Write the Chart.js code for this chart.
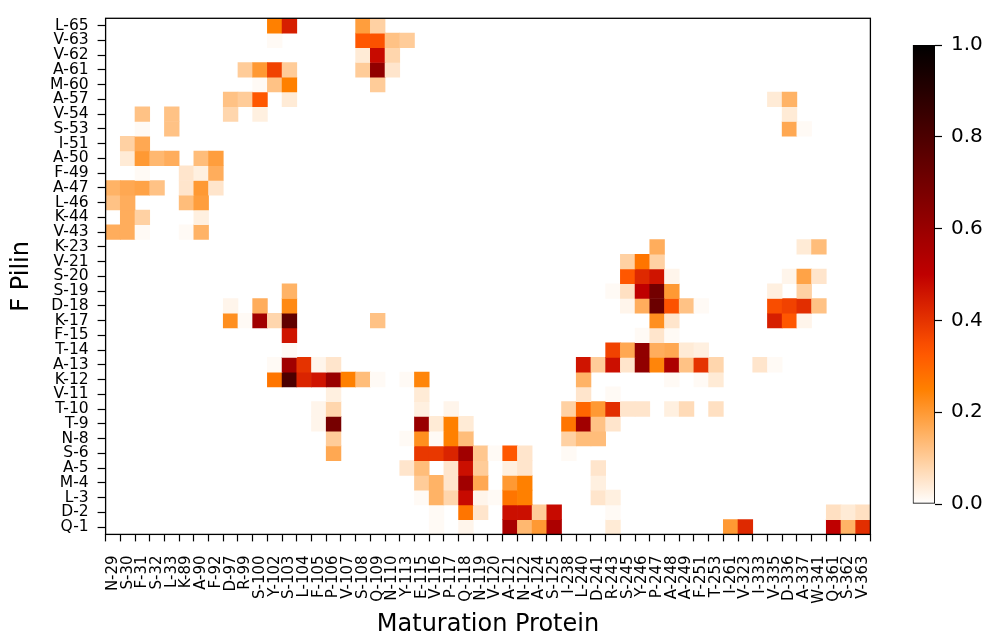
<!DOCTYPE html>
<html>
<head>
<meta charset="utf-8">
<title>F Pilin vs Maturation Protein</title>
<script src="https://cdn.jsdelivr.net/npm/chart.js@4.4.1/dist/chart.umd.min.js"></script>
<style>
    body { margin: 0; background: #fff; }
    #wrap { position: relative; width: 991px; height: 634px; }
    #heatmap { position: absolute; left: 0; top: 0; }
    #colorbar { position: absolute; left: 880px; top: 0; }
</style>
</head>
<body>
<div id="wrap">
    <canvas id="heatmap" width="991" height="634"></canvas>
    <canvas id="colorbar" width="111" height="634"></canvas>
</div>
<script>
// x 轴: Maturation Protein 残基
const proteinLabels = ['N-29', 'S-30', 'F-31', 'S-32', 'L-33', 'K-89', 'A-90', 'F-92', 'D-97', 'R-99',
    'S-100', 'Y-102', 'S-103', 'L-104', 'F-105', 'P-106', 'V-107', 'S-108', 'Q-109', 'N-110',
    'Y-113', 'E-115', 'V-116', 'P-117', 'Q-118', 'N-119', 'V-120', 'A-121', 'N-122', 'A-124',
    'S-125', 'I-238', 'L-240', 'D-241', 'R-243', 'S-245', 'Y-246', 'P-247', 'A-248', 'A-249',
    'F-251', 'T-253', 'I-261', 'V-323', 'I-333', 'V-335', 'D-336', 'A-337', 'W-341', 'Q-361',
    'S-362', 'V-363'];

// y 轴: F Pilin 残基 (从上到下)
const pilinLabels = ['L-65', 'V-63', 'V-62', 'A-61', 'M-60', 'A-57', 'V-54', 'S-53', 'I-51', 'A-50',
    'F-49', 'A-47', 'L-46', 'K-44', 'V-43', 'K-23', 'V-21', 'S-20', 'S-19', 'D-18',
    'K-17', 'F-15', 'T-14', 'A-13', 'K-12', 'V-11', 'T-10', 'T-9', 'N-8', 'S-6',
    'A-5', 'M-4', 'L-3', 'D-2', 'Q-1'];

// 非零格子: [F Pilin, Maturation Protein, 数值]
const cells = [
    ['L-65', 'Y-102', 0.25], ['L-65', 'S-103', 0.44], ['L-65', 'S-108', 0.19], ['L-65', 'Q-109', 0.09],
    ['V-63', 'Y-102', 0.01], ['V-63', 'S-108', 0.33], ['V-63', 'Q-109', 0.34], ['V-63', 'N-110', 0.12], ['V-63', 'Y-113', 0.10],
    ['V-62', 'S-108', 0.04], ['V-62', 'Q-109', 0.48], ['V-62', 'N-110', 0.08],
    ['A-61', 'R-99', 0.10], ['A-61', 'S-100', 0.20], ['A-61', 'Y-102', 0.37], ['A-61', 'S-103', 0.10],
    ['A-61', 'S-108', 0.10], ['A-61', 'Q-109', 0.62], ['A-61', 'N-110', 0.05],
    ['M-60', 'S-100', 0.01], ['M-60', 'Y-102', 0.12], ['M-60', 'S-103', 0.25], ['M-60', 'Q-109', 0.10],
    ['A-57', 'D-97', 0.12], ['A-57', 'R-99', 0.10], ['A-57', 'S-100', 0.33], ['A-57', 'S-103', 0.04],
    ['A-57', 'V-335', 0.04], ['A-57', 'D-336', 0.15],
    ['V-54', 'F-31', 0.12], ['V-54', 'L-33', 0.12], ['V-54', 'D-97', 0.08], ['V-54', 'S-100', 0.03], ['V-54', 'D-336', 0.04],
    ['S-53', 'F-31', 0.01], ['S-53', 'L-33', 0.12], ['S-53', 'D-336', 0.17], ['S-53', 'A-337', 0.01],
    ['I-51', 'S-30', 0.09], ['I-51', 'F-31', 0.17],
    ['A-50', 'S-30', 0.04], ['A-50', 'F-31', 0.20], ['A-50', 'S-32', 0.14], ['A-50', 'L-33', 0.16],
    ['A-50', 'A-90', 0.13], ['A-50', 'F-92', 0.19],
    ['F-49', 'F-31', 0.01], ['F-49', 'K-89', 0.05], ['F-49', 'A-90', 0.03], ['F-49', 'F-92', 0.16],
    ['A-47', 'N-29', 0.15], ['A-47', 'S-30', 0.17], ['A-47', 'F-31', 0.18], ['A-47', 'S-32', 0.12],
    ['A-47', 'K-89', 0.05], ['A-47', 'A-90', 0.20], ['A-47', 'F-92', 0.05],
    ['L-46', 'N-29', 0.12], ['L-46', 'S-30', 0.16], ['L-46', 'K-89', 0.13], ['L-46', 'A-90', 0.19],
    ['K-44', 'S-30', 0.16], ['K-44', 'F-31', 0.09], ['K-44', 'A-90', 0.03],
    ['V-43', 'N-29', 0.16], ['V-43', 'S-30', 0.16], ['V-43', 'F-31', 0.01], ['V-43', 'K-89', 0.01], ['V-43', 'A-90', 0.15],
    ['K-23', 'P-247', 0.16], ['K-23', 'A-337', 0.04], ['K-23', 'W-341', 0.13],
    ['V-21', 'S-245', 0.09], ['V-21', 'Y-246', 0.27], ['V-21', 'P-247', 0.09],
    ['S-20', 'S-245', 0.33], ['S-20', 'Y-246', 0.42], ['S-20', 'P-247', 0.46], ['S-20', 'A-248', 0.02],
    ['S-20', 'D-336', 0.02], ['S-20', 'A-337', 0.18], ['S-20', 'W-341', 0.05],
    ['S-19', 'S-103', 0.15], ['S-19', 'R-243', 0.01], ['S-19', 'S-245', 0.06], ['S-19', 'Y-246', 0.50],
    ['S-19', 'P-247', 0.70], ['S-19', 'A-248', 0.20], ['S-19', 'V-335', 0.03], ['S-19', 'A-337', 0.09],
    ['D-18', 'D-97', 0.02], ['D-18', 'S-100', 0.16], ['D-18', 'S-103', 0.23], ['D-18', 'S-245', 0.02],
    ['D-18', 'Y-246', 0.16], ['D-18', 'P-247', 0.72], ['D-18', 'A-248', 0.34], ['D-18', 'A-249', 0.12],
    ['D-18', 'F-251', 0.01], ['D-18', 'V-335', 0.35], ['D-18', 'D-336', 0.37], ['D-18', 'A-337', 0.41],
    ['D-18', 'W-341', 0.12],
    ['K-17', 'D-97', 0.22], ['K-17', 'R-99', 0.01], ['K-17', 'S-100', 0.58], ['K-17', 'Y-102', 0.08],
    ['K-17', 'S-103', 0.75], ['K-17', 'Q-109', 0.12], ['K-17', 'P-247', 0.22], ['K-17', 'A-248', 0.05],
    ['K-17', 'V-335', 0.44], ['K-17', 'D-336', 0.33], ['K-17', 'A-337', 0.02],
    ['F-15', 'S-103', 0.46], ['F-15', 'Y-246', 0.01], ['F-15', 'P-247', 0.05], ['F-15', 'A-248', 0.01],
    ['T-14', 'S-103', 0.01], ['T-14', 'R-243', 0.37], ['T-14', 'S-245', 0.17], ['T-14', 'Y-246', 0.62],
    ['T-14', 'P-247', 0.16], ['T-14', 'A-248', 0.17], ['T-14', 'A-249', 0.04], ['T-14', 'F-251', 0.03],
    ['A-13', 'Y-102', 0.01], ['A-13', 'S-103', 0.58], ['A-13', 'L-104', 0.40], ['A-13', 'F-105', 0.02],
    ['A-13', 'P-106', 0.05], ['A-13', 'L-240', 0.46], ['A-13', 'D-241', 0.10], ['A-13', 'R-243', 0.47],
    ['A-13', 'S-245', 0.05], ['A-13', 'Y-246', 0.62], ['A-13', 'P-247', 0.24], ['A-13', 'A-248', 0.55],
    ['A-13', 'A-249', 0.12], ['A-13', 'F-251', 0.40], ['A-13', 'T-253', 0.08], ['A-13', 'I-333', 0.05],
    ['A-13', 'V-335', 0.01],
    ['K-12', 'Y-102', 0.27], ['K-12', 'S-103', 0.80], ['K-12', 'L-104', 0.43], ['K-12', 'F-105', 0.46],
    ['K-12', 'P-106', 0.60], ['K-12', 'V-107', 0.25], ['K-12', 'S-108', 0.13], ['K-12', 'Q-109', 0.01],
    ['K-12', 'Y-113', 0.01], ['K-12', 'E-115', 0.24], ['K-12', 'L-240', 0.15], ['K-12', 'A-248', 0.01],
    ['K-12', 'F-251', 0.01], ['K-12', 'T-253', 0.04],
    ['V-11', 'P-106', 0.03], ['V-11', 'E-115', 0.04], ['V-11', 'L-240', 0.05], ['V-11', 'R-243', 0.01],
    ['T-10', 'F-105', 0.02], ['T-10', 'P-106', 0.08], ['T-10', 'E-115', 0.03], ['T-10', 'P-117', 0.02],
    ['T-10', 'I-238', 0.09], ['T-10', 'L-240', 0.30], ['T-10', 'D-241', 0.20], ['T-10', 'R-243', 0.41],
    ['T-10', 'S-245', 0.05], ['T-10', 'Y-246', 0.05], ['T-10', 'A-248', 0.03], ['T-10', 'A-249', 0.07],
    ['T-10', 'T-253', 0.06],
    ['T-9', 'F-105', 0.02], ['T-9', 'P-106', 0.69], ['T-9', 'E-115', 0.60], ['T-9', 'V-116', 0.04],
    ['T-9', 'P-117', 0.25], ['T-9', 'Q-118', 0.04], ['T-9', 'I-238', 0.27], ['T-9', 'L-240', 0.58],
    ['T-9', 'D-241', 0.12], ['T-9', 'R-243', 0.05],
    ['N-8', 'P-106', 0.10], ['N-8', 'Y-113', 0.01], ['N-8', 'E-115', 0.22], ['N-8', 'V-116', 0.01],
    ['N-8', 'P-117', 0.25], ['N-8', 'Q-118', 0.13], ['N-8', 'I-238', 0.09], ['N-8', 'L-240', 0.13],
    ['N-8', 'D-241', 0.13],
    ['S-6', 'P-106', 0.17], ['S-6', 'E-115', 0.39], ['S-6', 'V-116', 0.39], ['S-6', 'P-117', 0.43],
    ['S-6', 'Q-118', 0.58], ['S-6', 'N-119', 0.11], ['S-6', 'V-120', 0.01], ['S-6', 'A-121', 0.33],
    ['S-6', 'N-122', 0.05], ['S-6', 'I-238', 0.01],
    ['A-5', 'Y-113', 0.05], ['A-5', 'E-115', 0.13], ['A-5', 'P-117', 0.05], ['A-5', 'Q-118', 0.47],
    ['A-5', 'N-119', 0.10], ['A-5', 'A-121', 0.03], ['A-5', 'N-122', 0.05], ['A-5', 'D-241', 0.05],
    ['M-4', 'E-115', 0.10], ['M-4', 'V-116', 0.15], ['M-4', 'P-117', 0.05], ['M-4', 'Q-118', 0.58],
    ['M-4', 'N-119', 0.17], ['M-4', 'A-121', 0.20], ['M-4', 'N-122', 0.25], ['M-4', 'D-241', 0.03],
    ['L-3', 'E-115', 0.01], ['L-3', 'V-116', 0.15], ['L-3', 'P-117', 0.08], ['L-3', 'Q-118', 0.48],
    ['L-3', 'N-119', 0.02], ['L-3', 'V-120', 0.01], ['L-3', 'A-121', 0.27], ['L-3', 'N-122', 0.25],
    ['L-3', 'D-241', 0.05], ['L-3', 'R-243', 0.03],
    ['D-2', 'V-116', 0.01], ['D-2', 'Q-118', 0.27], ['D-2', 'N-119', 0.05], ['D-2', 'A-121', 0.47],
    ['D-2', 'N-122', 0.47], ['D-2', 'A-124', 0.10], ['D-2', 'S-125', 0.48], ['D-2', 'R-243', 0.01],
    ['D-2', 'Q-361', 0.06], ['D-2', 'S-362', 0.04], ['D-2', 'V-363', 0.06],
    ['Q-1', 'V-116', 0.01], ['Q-1', 'Q-118', 0.02], ['Q-1', 'A-121', 0.56], ['Q-1', 'N-122', 0.14],
    ['Q-1', 'A-124', 0.20], ['Q-1', 'S-125', 0.55], ['Q-1', 'R-243', 0.04], ['Q-1', 'I-261', 0.20],
    ['Q-1', 'V-323', 0.42], ['Q-1', 'Q-361', 0.50], ['Q-1', 'S-362', 0.15], ['Q-1', 'V-363', 0.41]
];

// 色标刻度
const colorbarTicks = [0, 0.2, 0.4, 0.6, 0.8, 1.0];

// gist_heat_r 色图: 0 白色, 1 黑色
function heatColor(v) {
    const x = 1 - Math.max(0, Math.min(1, v));
    const clamp = t => Math.round(255 * Math.max(0, Math.min(1, t)));
    return `rgb(${clamp(1.5 * x)}, ${clamp(2 * x - 1)}, ${clamp(4 * x - 3)})`;
}

const FONT = "'DejaVu Sans', sans-serif";

// 每一行 F Pilin 一个数据集, 每个格子是一根浮动柱 [i-0.5, i+0.5]
const datasets = pilinLabels.map((pilin, i) => {
    const rowCells = cells.filter(c => c[0] === pilin);
    return {
        label: pilin,
        data: rowCells.map(c => ({ x: c[1], y: [i - 0.5, i + 0.5] })),
        backgroundColor: rowCells.map(c => heatColor(c[2])),
        borderWidth: 0,
        barPercentage: 1,
        categoryPercentage: 1
    };
});

// 画外框
const frame = {
    id: 'frame',
    afterDraw(chart) {
        const { ctx, chartArea: a } = chart;
        ctx.save();
        ctx.strokeStyle = '#000';
        ctx.lineWidth = 1.3;
        ctx.strokeRect(a.left, a.top, a.right - a.left, a.bottom - a.top);
        ctx.restore();
    }
};

new Chart(document.getElementById('heatmap'), {
    type: 'bar',
    data: { labels: proteinLabels, datasets: datasets },
    options: {
        responsive: false,
        animation: false,
        layout: { padding: { left: 0, top: 15.6, right: 120.6, bottom: 0 } },
        plugins: { legend: { display: false }, tooltip: { enabled: false } },
        scales: {
            x: {
                type: 'category',
                stacked: true,
                offset: true,
                afterFit: axis => { axis.height = 99.6; },
                grid: { display: true, drawOnChartArea: false, tickLength: 7, tickColor: '#000', tickWidth: 1.2 },
                border: { display: false },
                ticks: {
                    autoSkip: false, maxRotation: 90, minRotation: 90, padding: 14,
                    color: '#000', font: { family: FONT, size: 15 }
                },
                title: {
                    display: true, text: 'Maturation Protein', color: '#000',
                    font: { family: FONT, size: 24, lineHeight: 1 }, padding: { top: 0, bottom: -3 }
                }
            },
            y: {
                type: 'linear',
                stacked: false,
                reverse: true,
                min: -0.5,
                max: pilinLabels.length - 0.5,
                afterFit: axis => { axis.width = 105.6; },
                afterBuildTicks: axis => { axis.ticks = pilinLabels.map((_, i) => ({ value: i })); },
                grid: { display: true, drawOnChartArea: false, tickLength: 8, tickColor: '#000', tickWidth: 1.2 },
                border: { display: false },
                ticks: {
                    autoSkip: false, padding: 9, color: '#000',
                    font: { family: FONT, size: 15.5 },
                    callback: value => pilinLabels[value]
                },
                title: {
                    display: true, text: 'F Pilin', color: '#000',
                    font: { family: FONT, size: 24, lineHeight: 1 }, padding: { top: 10, bottom: 0 }
                }
            }
        }
    },
    plugins: [frame]
});

// 色标
new Chart(document.getElementById('colorbar'), {
    type: 'bar',
    data: {
        labels: ['scale'],
        datasets: [{
            data: [[0, 1]],
            backgroundColor: context => {
                const area = context.chart.chartArea;
                if (!area) return '#fff';
                const g = context.chart.ctx.createLinearGradient(0, area.bottom, 0, area.top);
                for (let k = 0; k <= 40; k++) g.addColorStop(k / 40, heatColor(k / 40));
                return g;
            },
            borderColor: '#000',
            borderWidth: 1.2,
            borderSkipped: false,
            barPercentage: 1,
            categoryPercentage: 1
        }]
    },
    options: {
        responsive: false,
        animation: false,
        layout: { padding: { left: 32.7, top: 45, right: 0, bottom: 130 } },
        plugins: { legend: { display: false }, tooltip: { enabled: false } },
        scales: {
            x: { display: false, offset: true },
            y: {
                position: 'right',
                min: 0, max: 1,
                afterFit: axis => { axis.width = 56; },
                afterBuildTicks: axis => { axis.ticks = colorbarTicks.map(v => ({ value: v })); },
                grid: { display: true, drawOnChartArea: false, tickLength: 7, tickColor: '#000', tickWidth: 1.2 },
                border: { display: false },
                ticks: {
                    padding: 9, color: '#000',
                    font: { family: FONT, size: 20 },
                    callback: value => value.toFixed(1)
                }
            }
        }
    }
});
</script>
</body>
</html>
